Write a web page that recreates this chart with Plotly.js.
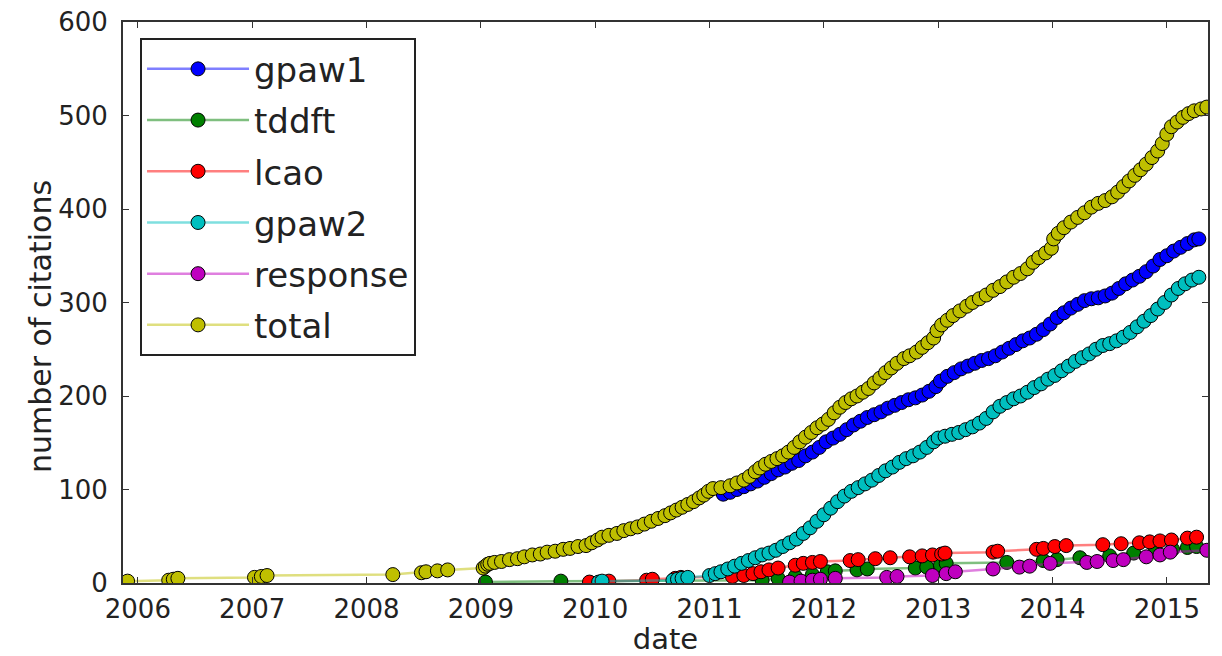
<!DOCTYPE html>
<html>
<head>
<meta charset="utf-8">
<script src="https://cdn.plot.ly/plotly-3.0.1.min.js"></script>
<style>html,body{margin:0;padding:0;background:#fff;}#chart{width:1222px;height:656px;}</style>
</head>
<body>
<div id="chart"></div>
<script>
// Dates as decimal years, values = cumulative number of citations
const gpaw1X = [2011.12,2011.18,2011.24,2011.30,2011.36,2011.42,2011.48,2011.54,2011.60,2011.66,2011.72,2011.78,2011.84,2011.90,2011.96,2012.02,2012.08,2012.14,2012.20,2012.26,2012.32,2012.38,2012.44,2012.50,2012.56,2012.62,2012.68,2012.74,2012.80,2012.86,2012.92,2012.98,2013.02,2013.08,2013.14,2013.20,2013.26,2013.32,2013.38,2013.44,2013.50,2013.56,2013.62,2013.68,2013.74,2013.80,2013.86,2013.92,2013.98,2014.04,2014.10,2014.16,2014.22,2014.28,2014.34,2014.40,2014.46,2014.52,2014.58,2014.64,2014.70,2014.76,2014.82,2014.88,2014.94,2015.00,2015.06,2015.12,2015.18,2015.24,2015.28];
const gpaw1Y = [95,97,100,103,106,109,113,117,121,124,128,131,136,140,145,151,155,159,164,169,173,177,180,183,187,190,193,196,198,201,205,210,216,221,225,229,232,235,238,240,243,247,251,255,259,262,266,271,277,284,289,294,298,302,304,305,307,310,315,320,324,328,333,339,346,350,355,359,363,367,368];

const tddftX = [2009.04,2009.70,2011.46,2011.60,2011.75,2011.90,2012.03,2012.10,2012.29,2012.38,2012.80,2012.90,2013.02,2013.07,2013.60,2013.92,2014.04,2014.24,2014.50,2014.71,2014.90,2015.05,2015.18,2015.26];
const tddftY = [1,2,3,5,7,9,12,13,14,15,16,17,19,21,22,24,25,27,29,32,34,36,38,39];

const lcaoX = [2009.95,2010.12,2010.45,2010.50,2010.70,2010.75,2011.20,2011.30,2011.38,2011.45,2011.52,2011.60,2011.75,2011.82,2011.90,2011.97,2012.23,2012.30,2012.45,2012.58,2012.75,2012.86,2012.95,2013.03,2013.06,2013.48,2013.52,2013.86,2013.92,2014.02,2014.12,2014.44,2014.60,2014.76,2014.85,2014.94,2015.04,2015.18,2015.26];
const lcaoY = [1,2,3,4,5,6,7,8,10,12,14,16,19,21,22,23,24,25,26,27,28,29,30,31,32,33,34,36,37,39,40,41,42,43,44,45,46,48,49];

const gpaw2X = [2010.03,2010.06,2010.68,2010.72,2010.76,2010.81,2011.00,2011.05,2011.10,2011.16,2011.22,2011.28,2011.34,2011.40,2011.46,2011.52,2011.58,2011.64,2011.70,2011.76,2011.82,2011.88,2011.94,2012.00,2012.06,2012.12,2012.18,2012.24,2012.30,2012.36,2012.42,2012.48,2012.54,2012.60,2012.66,2012.72,2012.78,2012.84,2012.90,2012.96,2013.00,2013.06,2013.12,2013.18,2013.24,2013.30,2013.36,2013.42,2013.48,2013.54,2013.60,2013.66,2013.72,2013.78,2013.84,2013.90,2013.96,2014.02,2014.08,2014.14,2014.20,2014.26,2014.32,2014.38,2014.44,2014.50,2014.56,2014.62,2014.68,2014.74,2014.80,2014.86,2014.92,2014.98,2015.04,2015.10,2015.16,2015.22,2015.28];
const gpaw2Y = [1,2,3,4,5,6,8,10,12,15,18,21,24,27,30,32,35,39,43,47,53,59,66,73,80,87,93,98,102,106,110,115,120,124,129,133,136,140,145,151,155,157,159,161,164,167,171,176,183,189,193,197,200,204,209,213,218,222,227,232,237,241,245,250,254,256,259,263,268,274,280,286,293,300,308,315,320,324,327];

const responseX = [2011.70,2011.80,2011.90,2011.97,2012.10,2012.55,2012.64,2012.95,2013.07,2013.15,2013.48,2013.71,2013.80,2013.98,2014.30,2014.39,2014.53,2014.62,2014.82,2014.94,2015.03,2015.35];
const responseY = [1,2,3,4,5,6,7,8,10,12,15,17,18,21,22,23,24,25,28,30,33,35];

const totalX = [2005.91,2006.27,2006.31,2006.35,2007.02,2007.08,2007.13,2008.23,2008.48,2008.52,2008.62,2008.71,2009.02,2009.04,2009.06,2009.08,2009.12,2009.18,2009.25,2009.32,2009.38,2009.45,2009.52,2009.58,2009.65,2009.72,2009.78,2009.85,2009.92,2009.97,2010.02,2010.06,2010.12,2010.19,2010.25,2010.31,2010.37,2010.43,2010.49,2010.55,2010.61,2010.66,2010.71,2010.76,2010.81,2010.86,2010.91,2010.95,2010.99,2011.03,2011.10,2011.18,2011.24,2011.30,2011.35,2011.40,2011.44,2011.49,2011.54,2011.59,2011.64,2011.69,2011.74,2011.79,2011.84,2011.89,2011.94,2011.99,2012.04,2012.09,2012.14,2012.19,2012.24,2012.29,2012.34,2012.39,2012.44,2012.49,2012.54,2012.59,2012.64,2012.70,2012.75,2012.81,2012.86,2012.91,2012.96,2012.99,2013.03,2013.08,2013.13,2013.19,2013.25,2013.30,2013.36,2013.42,2013.48,2013.54,2013.60,2013.66,2013.72,2013.78,2013.83,2013.88,2013.94,2013.99,2014.01,2014.05,2014.10,2014.16,2014.22,2014.28,2014.34,2014.40,2014.46,2014.52,2014.57,2014.62,2014.67,2014.72,2014.77,2014.82,2014.87,2014.92,2014.96,2015.00,2015.04,2015.09,2015.14,2015.19,2015.24,2015.30,2015.35];
const totalY = [2,3,4,5,6,7,8,9,11,12,13,14,16,18,20,21,22,23,25,26,28,30,31,33,34,36,37,39,40,43,46,49,51,53,56,58,60,63,66,69,72,75,78,81,84,87,91,94,98,101,102,104,107,110,114,119,123,127,130,133,136,140,145,151,156,161,166,170,175,182,188,193,197,200,204,208,214,219,225,230,235,240,243,247,252,257,262,270,276,281,286,291,296,300,304,308,313,317,322,327,331,336,343,348,353,358,368,374,380,386,391,396,402,406,409,413,418,424,430,436,442,448,455,462,470,480,488,493,498,502,505,507,509];

const seriesNames = ['gpaw1','tddft','lcao','gpaw2','response','total'];
const tickYears = [2006,2007,2008,2009,2010,2011,2012,2013,2014,2015];
const tickLabels = ['2006','2007','2008','2009','2010','2011','2012','2013','2014','2015'];

const xs = [gpaw1X, tddftX, lcaoX, gpaw2X, responseX, totalX];
const ys = [gpaw1Y, tddftY, lcaoY, gpaw2Y, responseY, totalY];
const colors = ['0,0,255','0,128,0','255,0,0','0,191,191','191,0,191','191,191,0'];

const traces = seriesNames.map((n, i) => ({
  type: 'scatter', mode: 'lines+markers', name: n,
  x: xs[i], y: ys[i], legendgroup: n,
  line: {color: 'rgba(' + colors[i] + ',0.5)', width: 2.5},
  marker: {color: 'rgb(' + colors[i] + ')', size: 14, line: {color: '#000', width: 1}}
}));

const axisCommon = {
  showline: true, mirror: 'ticks', linecolor: '#333', linewidth: 2,
  ticks: 'inside', ticklen: 6, tickwidth: 1, tickcolor: '#333',
  showgrid: false, zeroline: false,
  tickfont: {family: 'DejaVu Sans', size: 26, color: '#222'}
};

const layout = {
  width: 1222, height: 656,
  margin: {l: 123, r: 14, t: 22, b: 73},
  paper_bgcolor: '#fff', plot_bgcolor: '#fff',
  font: {family: 'DejaVu Sans', color: '#222'},
  xaxis: Object.assign({}, axisCommon, {
    range: [2005.87, 2015.36], tickvals: tickYears, ticktext: tickLabels,
    ticklabelstandoff: 2,
    title: {text: 'date', font: {family: 'DejaVu Sans', size: 29, color: '#222'}, standoff: 2}
  }),
  yaxis: Object.assign({}, axisCommon, {
    range: [0, 600], tickvals: [0,100,200,300,400,500,600],
    ticklabelstandoff: 8
  }),
  annotations: [{
    text: 'number of citations', textangle: -90, showarrow: false,
    xref: 'paper', yref: 'paper', x: -0.0765, y: 0.458,
    xanchor: 'center', yanchor: 'middle',
    font: {family: 'DejaVu Sans', size: 30, color: '#222'}
  }],
  showlegend: true,
  legend: {
    x: 0.0157, y: 0.971, xanchor: 'left', yanchor: 'top',
    bgcolor: '#fff', bordercolor: '#222', borderwidth: 2,
    font: {family: 'DejaVu Sans', size: 34, color: '#222'},
    tracegroupgap: 4, itemwidth: 102
  }
};

Plotly.newPlot('chart', traces, layout, {displayModeBar: false, staticPlot: true});
</script>
</body>
</html>
